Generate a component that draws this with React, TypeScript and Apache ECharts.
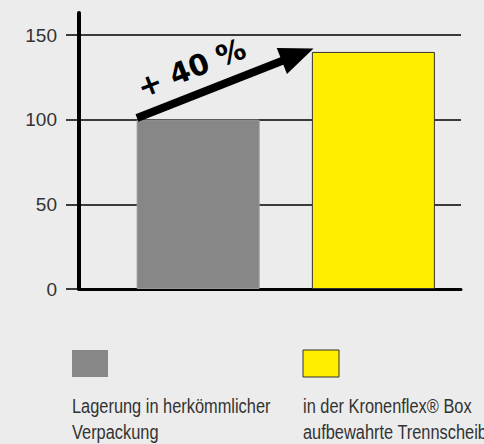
import React, { useEffect, useRef } from "react";
import * as echarts from "echarts";

const categories = [
  "Lagerung in herkömmlicher\nVerpackung",
  "in der Kronenflex® Box\naufbewahrte Trennscheibe",
];
const positions = [1, 2];
const values = [100, 140];
const barColors = ["#878787", "#ffee00"];
const yTicks = [0, 50, 100, 150];
const arrowFrom = [0.651, 101];
const arrowTo = [1.568, 138.3];
const arrowLabel = "+ 40 %";

const FONT = "'Liberation Sans', Arial, sans-serif";

export default function App() {
  const ref = useRef<HTMLDivElement>(null);
  useEffect(() => {
    if (!ref.current) return;
    const chart = echarts.init(ref.current, null, { renderer: "svg" });
    const legendGraphics: any[] = [];
    const legendX = [72, 303];
    categories.forEach((c, i) => {
      legendGraphics.push({
        type: "rect",
        shape: { x: legendX[i], y: 350, width: 36, height: 27 },
        style: {
          fill: barColors[i],
          stroke: i === 1 ? "#333" : null,
          lineWidth: 1,
        },
      });
      legendGraphics.push({
        type: "text",
        x: legendX[i],
        y: 393,
        scaleX: 0.78,
        style: {
          text: c,
          font: `21px ${FONT}`,
          fill: "#333",
          lineHeight: 26,
        },
      });
    });
    chart.setOption({
      animation: false,
      backgroundColor: "#ececec",
      grid: [
        { left: 79, right: 23, top: 35, bottom: 155 },
        { left: 79, right: 23, top: 13, bottom: 155 },
      ],
      xAxis: [
        {
          type: "value",
          gridIndex: 0,
          min: 0.32,
          max: 2.5,
          axisLine: { show: true, onZero: false, lineStyle: { color: "#000", width: 3 } },
          axisTick: { show: false },
          axisLabel: { show: false },
          splitLine: { show: false },
        },
        { type: "value", gridIndex: 1, min: 0, max: 1, show: false },
      ],
      yAxis: [
        {
          type: "value",
          gridIndex: 0,
          min: yTicks[0],
          max: yTicks[yTicks.length - 1],
          interval: 50,
          axisLine: { show: false },
          axisTick: { show: true, length: 13, lineStyle: { color: "#000", width: 1.5 } },
          axisLabel: {
            fontSize: 19,
            fontFamily: FONT,
            color: "#333",
            margin: 22,
          },
          splitLine: { show: true, lineStyle: { color: "#000", width: 1.5 } },
        },
        {
          type: "value",
          gridIndex: 1,
          min: 0,
          max: 1,
          axisLine: { show: true, lineStyle: { color: "#000", width: 4 } },
          axisTick: { show: false },
          axisLabel: { show: false },
          splitLine: { show: false },
        },
      ],
      series: [
        {
          type: "bar",
          xAxisIndex: 0,
          yAxisIndex: 0,
          barWidth: 123,
          data: positions.map((p, i) => ({
            value: [p, values[i]],
            itemStyle: {
              color: barColors[i],
              borderColor: i === 1 ? "#333" : "#999",
              borderWidth: 1,
            },
          })),
          markLine: {
            silent: true,
            symbol: ["none", "triangle"],
            symbolSize: [28, 34],
            lineStyle: { color: "#000", width: 8, type: "solid" },
            label: {
              show: true,
              formatter: arrowLabel,
              position: "insideStartTop",
              distance: 12,
              fontSize: 29,
              fontWeight: "bold",
              fontFamily: "'DejaVu Sans', sans-serif",
              color: "#000",
            },
            data: [[{ coord: arrowFrom }, { coord: arrowTo }]],
          },
        },
      ],
      graphic: legendGraphics,
    });
    return () => chart.dispose();
  }, []);
  return (
    <div
      ref={ref}
      style={{ position: "fixed", left: 0, top: 0, width: 484, height: 444 }}
    />
  );
}
